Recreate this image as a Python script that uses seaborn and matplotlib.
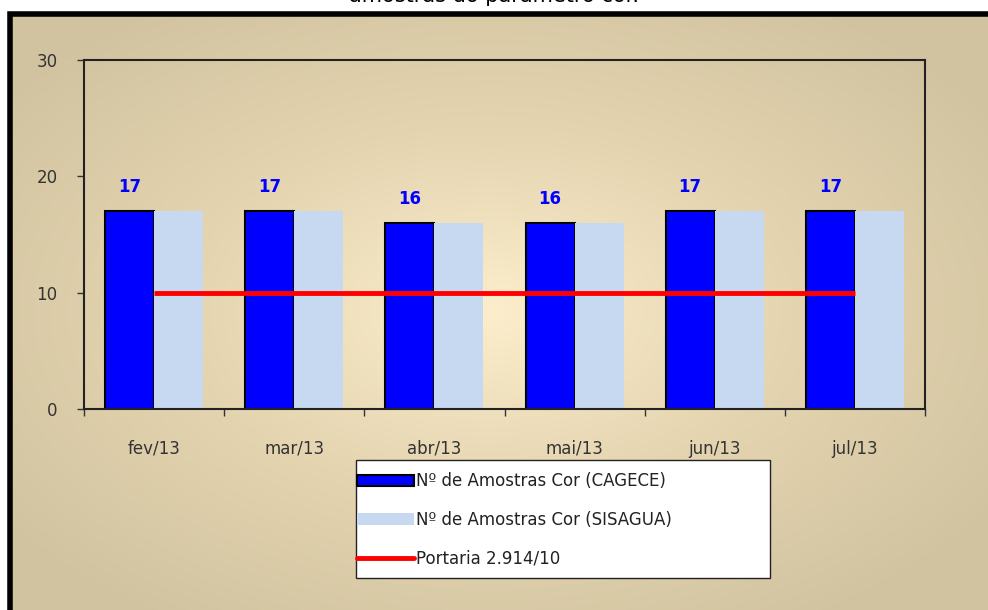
import numpy as np
import pandas as pd
import matplotlib
matplotlib.use("Agg")
import matplotlib.pyplot as plt
import seaborn as sns
from matplotlib.patches import Rectangle, Patch
from matplotlib.lines import Line2D
from matplotlib.colors import LinearSegmentedColormap

months = ["fev/13", "mar/13", "abr/13", "mai/13", "jun/13", "jul/13"]
cagece = [17, 17, 16, 16, 17, 17]
sisagua = [17, 17, 16, 16, 17, 17]
portaria = [10, 10, 10, 10, 10, 10]
series_names = ["Nº de Amostras Cor (CAGECE)", "Nº de Amostras Cor (SISAGUA)"]
line_name = "Portaria 2.914/10"
title = "amostras do parâmetro cor."
yticks = [0, 10, 20, 30]

sns.set_theme(style="white")
plt.rcParams["font.family"] = ["DejaVu Sans"]

W, H = 988, 610
fig = plt.figure(figsize=(W / 100, H / 100), dpi=100, facecolor="white")

# background panel with radial gradient
bg = fig.add_axes([8 / W, 0, 1 - 8 / W, 1 - 12 / H], zorder=-5)
yy, xx = np.mgrid[0:300, 0:500]
cx, cy = 0.49 * 500, 0.50 * 300
d = np.sqrt(((xx - cx) / 500) ** 2 + ((yy - cy) / 300) ** 2)
d = np.clip(d / 0.62, 0, 1)
cmap = LinearSegmentedColormap.from_list("tan", ["#FCEDCC", "#E4D4B0", "#D2C3A0"])
bg.imshow(d, cmap=cmap, aspect="auto", extent=[0, 1, 0, 1], interpolation="bilinear")
bg.set_xlim(0, 1)
bg.set_ylim(0, 1)
bg.axis("off")
fig.patches.append(Rectangle((10 / W, -0.1), 1.2, 1 - 14 / H + 0.1, transform=fig.transFigure,
                             fill=False, edgecolor="black", linewidth=4, zorder=-4))

fig.text(0.5, 1 + 5 / H, title, ha="center", va="center", fontsize=15, color="black")

ax = fig.add_axes([84 / W, 1 - 409 / H, (925 - 84) / W, (409 - 60) / H])
ax.patch.set_alpha(0)

df = pd.DataFrame({
    "mes": months * 2,
    "valor": cagece + sisagua,
    "serie": [series_names[0]] * len(months) + [series_names[1]] * len(months),
})
sns.barplot(data=df, x="mes", y="valor", hue="serie", order=months, hue_order=series_names,
            palette=["#0000FF", "#C6D9F0"], width=0.7, saturation=1, ax=ax, legend=False,
            errorbar=None)
for i, p in enumerate(ax.patches):
    if i < len(months):
        p.set_edgecolor("black")
        p.set_linewidth(1.5)
    else:
        p.set_edgecolor("none")
        p.set_linewidth(0)

ax.plot(np.arange(len(months)), portaria, color="#FF0000", linewidth=3.5, solid_capstyle="butt", zorder=5)

for i, p in enumerate(ax.patches[:len(months)]):
    ax.text(p.get_x() + p.get_width() / 2, p.get_height() + 1.3, f"{cagece[i]}", ha="center",
            va="bottom", color="#0000FF", fontsize=12, fontweight="bold")

ax.set_ylim(0, 30)
ax.set_xlim(-0.5, len(months) - 0.5)
ax.set_yticks(yticks)
ax.set_xlabel("")
ax.set_ylabel("")
ax.set_xticks(np.arange(len(months)))
ax.set_xticklabels(months)
ax.set_xticks(np.arange(-0.5, len(months), 1), minor=True)
ax.tick_params(axis="x", which="major", length=0, pad=22, labelsize=12, labelcolor="#333333")
ax.tick_params(axis="x", which="minor", length=5, width=1, color="#333333", direction="out", bottom=True)
ax.tick_params(axis="y", which="major", length=5, width=1, color="#333333", direction="out", left=True,
               pad=14, labelsize=12, labelcolor="#333333")
for s in ax.spines.values():
    s.set_visible(True)
    s.set_color("#222222")
    s.set_linewidth(1.5)

# legend box
fig.patches.append(Rectangle((356 / W, 1 - 578 / H), (770 - 356) / W, (578 - 460) / H,
                             transform=fig.transFigure, facecolor="white", edgecolor="#222222",
                             linewidth=1, zorder=2))
handles = [
    Patch(facecolor="#0000FF", edgecolor="black", linewidth=1.5),
    Patch(facecolor="#C6D9F0", edgecolor="none"),
    Line2D([0], [0], color="#FF0000", linewidth=3.5),
]
leg = fig.legend(handles, series_names + [line_name], loc="upper left",
                 bbox_to_anchor=(357 / W, 1 - 472 / H), fontsize=12, frameon=False,
                 handlelength=3.4, handleheight=0.65, handletextpad=0.15, labelspacing=1.25,
                 borderpad=0, borderaxespad=0)
leg.set_zorder(3)
for t in leg.get_texts():
    t.set_color("#222222")

fig.savefig("out.png", dpi=100)
